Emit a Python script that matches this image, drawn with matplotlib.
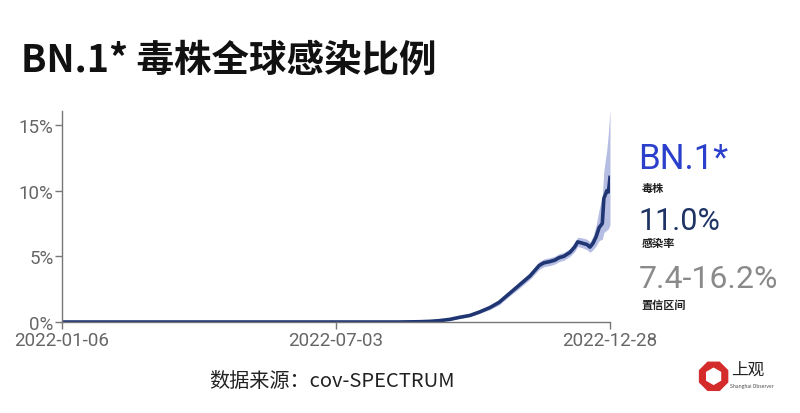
"""
BN.1* 毒株全球感染比例 图表复刻
"""
import pandas as pd
import matplotlib.pyplot as plt
import matplotlib.dates as mdates
from matplotlib.patches import RegularPolygon

plt.rcParams['font.family'] = ['Noto Sans CJK SC', 'DejaVu Sans']
plt.rcParams['axes.unicode_minus'] = False

# 数据（从图中估读，单位 %）
dates = ['2022-01-06', '2022-08-13', '2022-08-26', '2022-09-02', '2022-09-08',
         '2022-09-15', '2022-09-21', '2022-09-28', '2022-10-04', '2022-10-11',
         '2022-10-17', '2022-10-24', '2022-10-30', '2022-11-06', '2022-11-12',
         '2022-11-15', '2022-11-19', '2022-11-22', '2022-11-25', '2022-11-28',
         '2022-12-02', '2022-12-05', '2022-12-07', '2022-12-10', '2022-12-13',
         '2022-12-15', '2022-12-17', '2022-12-19', '2022-12-21', '2022-12-23',
         '2022-12-24', '2022-12-26', '2022-12-27', '2022-12-28']
share = [0.0, 0.0, 0.02, 0.05, 0.1,
         0.2, 0.35, 0.5, 0.75, 1.1,
         1.5, 2.2, 2.8, 3.5, 4.3,
         4.5, 4.6, 4.7, 4.9, 5.0,
         5.3, 5.7, 6.1, 6.0, 5.9,
         5.7, 6.0, 6.5, 7.2, 7.5,
         9.4, 10.0, 9.9, 11.0]
lower = [0.0, 0.0, 0.0, 0.03, 0.07,
         0.15, 0.28, 0.42, 0.65, 0.95,
         1.3, 2.0, 2.55, 3.25, 4.0,
         4.2, 4.3, 4.4, 4.6, 4.7,
         5.0, 5.35, 5.75, 5.65, 5.5,
         5.3, 5.5, 5.8, 6.2, 6.3,
         6.8, 7.0, 7.1, 7.4]
upper = [0.0, 0.01, 0.05, 0.08, 0.14,
         0.26, 0.43, 0.6, 0.87, 1.25,
         1.7, 2.4, 3.05, 3.75, 4.6,
         4.8, 4.9, 5.0, 5.2, 5.3,
         5.6, 6.05, 6.45, 6.4, 6.3,
         6.1, 6.5, 7.4, 8.6, 9.6,
         11.5, 13.2, 14.5, 16.2]

x_ticks = ['2022-01-06', '2022-07-03', '2022-12-28']
y_ticks = [0, 5, 10, 15]

df = pd.DataFrame({'date': pd.to_datetime(dates), 'share': share,
                   'lower': lower, 'upper': upper})

fig = plt.figure(figsize=(8, 4.14), dpi=100)
ax = fig.add_axes([0.0775, 0.2198, 0.685, 0.5097])

ax.fill_between(df['date'], df['lower'], df['upper'], color='#aab2de',
                alpha=0.85, linewidth=0)
ax.plot(df['date'], df['share'], color='#1f3673', linewidth=2.6)

ax.set_xlim(pd.Timestamp(x_ticks[0]), pd.Timestamp(x_ticks[-1]))
ax.set_ylim(0, 16.06)

ax.set_xticks(pd.to_datetime(x_ticks))
ax.xaxis.set_major_formatter(mdates.DateFormatter('%Y-%m-%d'))
ax.set_yticks(y_ticks)
ax.set_yticklabels([f'{v}%' for v in y_ticks])

for s in ['top', 'right']:
    ax.spines[s].set_visible(False)
for s in ['left', 'bottom']:
    ax.spines[s].set_color('#777777')
    ax.spines[s].set_linewidth(1)
ax.tick_params(axis='both', colors='#777777', labelcolor='#666666',
               labelsize=13.5, length=5, width=1, pad=1)
ax.tick_params(axis='x', pad=1.5)
for lbl in ax.get_xticklabels() + ax.get_yticklabels():
    lbl.set_family(['Roboto', 'DejaVu Sans'])

# 标题
fig.text(0.026, 0.855, 'BN.1* 毒株全球感染比例', fontsize=27, fontweight='bold',
         color='#111111', ha='left', va='center')

# 右侧说明
num_font = ['Roboto', 'DejaVu Sans']
fig.text(0.798, 0.615, 'BN.1*', fontsize=25, color='#2a3fcb', ha='left',
         va='center', family=num_font)
fig.text(0.802, 0.545, '毒株', fontsize=8, fontweight='bold', color='#222222',
         ha='left', va='center')
fig.text(0.798, 0.466, '11.0%', fontsize=22, color='#1f3365', ha='left',
         va='center', family=num_font)
fig.text(0.802, 0.413, '感染率', fontsize=8, fontweight='bold', color='#222222',
         ha='left', va='center')
fig.text(0.798, 0.325, '7.4-16.2%', fontsize=23, color='#8a8a8a', ha='left',
         va='center', family=num_font)
fig.text(0.802, 0.262, '置信区间', fontsize=8, fontweight='bold', color='#222222',
         ha='left', va='center')

# 数据来源
fig.text(0.262, 0.079, '数据来源：cov-SPECTRUM', fontsize=14.5, color='#222222',
         ha='left', va='center')

# 上观 标志（用等比例小坐标轴画八边形）
logo = fig.add_axes([0.872, 0.05, 0.04, 0.0773])
logo.set_xlim(-1, 1)
logo.set_ylim(-1, 1)
logo.set_aspect('equal')
logo.axis('off')
logo.add_patch(RegularPolygon((0, 0), numVertices=8, radius=0.95,
                              orientation=0.3927, color='#d42b2b'))
logo.add_patch(RegularPolygon((0, 0), numVertices=6, radius=0.5,
                              color='white'))
fig.text(0.914, 0.105, '上观', fontsize=12, color='#222222', ha='left',
         va='center')
fig.text(0.912, 0.066, 'Shanghai Observer', fontsize=3.5, color='#444444',
         ha='left', va='center')

plt.savefig('out.png', dpi=100)
plt.close()
